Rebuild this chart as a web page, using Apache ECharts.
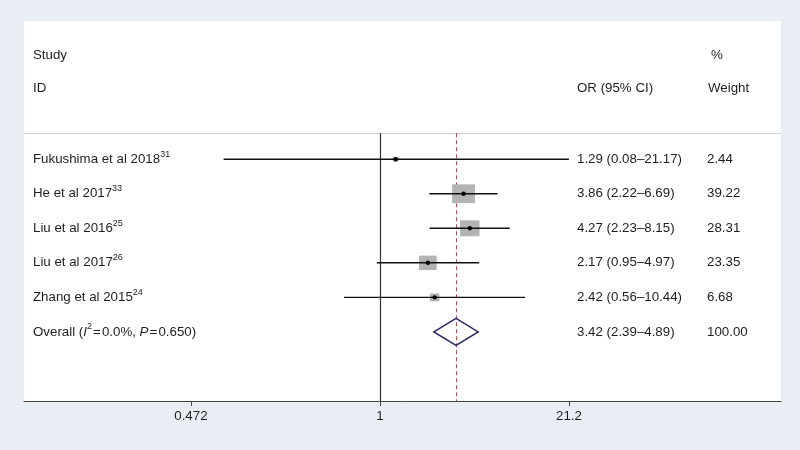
<!DOCTYPE html>
<html>
<head>
<meta charset="utf-8">
<script src="https://cdn.jsdelivr.net/npm/echarts@6/dist/echarts.min.js"></script>
<style>
  html, body { margin: 0; padding: 0; background: #e8eef3; }
  #chart { width: 800px; height: 450px; }
</style>
</head>
<body>
<div id="chart"></div>
<script>
const studies = ["Fukushima et al 2018", "He et al 2017", "Liu et al 2016", "Liu et al 2017", "Zhang et al 2015"]
const refs = ["31", "33", "25", "26", "24"]
const oddsRatio = [1.29, 3.86, 4.27, 2.17, 2.42]
const ciLower = [0.08, 2.22, 2.23, 0.95, 0.56]
const ciUpper = [21.17, 6.69, 8.15, 4.97, 10.44]
const weights = [2.44, 39.22, 28.31, 23.35, 6.68]
const overall = [3.42, 2.39, 4.89]
const tickValues = [1 / 21.2, 1, 21.2]
const tickLabels = ["0.472", "1", "21.2"]

const FONT = "'Liberation Sans', Arial, Helvetica, sans-serif"
const FS = 13.3
const textColor = "#1e1e1e"
// column offsets from the left of the panel
const colName = 9, colOR = 553, colWeight = 683

const fmt = (v) => v.toFixed(2)

const studyData = studies.map((s, i) => [i, oddsRatio[i], ciLower[i], ciUpper[i], weights[i]])

function renderStudy(params, api) {
  const i = api.value(0)
  const p = api.coord([api.value(1), i])
  const lo = api.coord([api.value(2), i])
  const hi = api.coord([api.value(3), i])
  const y = p[1]
  const w = Math.sqrt(api.value(4)) * 3.65
  const h = w * 0.82
  const cs = params.coordSys
  const idx = params.dataIndex
  return {
    type: "group",
    children: [
      { type: "rect", shape: { x: p[0] - w / 2, y: y - h / 2, width: w, height: h }, style: { fill: "#b3b3b3" } },
      { type: "line", shape: { x1: lo[0], y1: y, x2: hi[0], y2: y }, style: { stroke: "#111", lineWidth: 1.4 } },
      { type: "circle", shape: { cx: p[0], cy: y, r: 2.2 }, style: { fill: "#000" } },
      {
        type: "text",
        style: {
          x: cs.x + colName, y: y, verticalAlign: "middle",
          text: "{n|" + studies[idx] + "}{s|" + refs[idx] + "}",
          rich: {
            n: { fontSize: FS, fontFamily: FONT, fill: textColor, lineHeight: 19 },
            s: { fontSize: 9, fontFamily: FONT, fill: textColor, verticalAlign: "top", lineHeight: 19 }
          }
        }
      },
      {
        type: "text",
        style: {
          x: cs.x + colOR, y: y, verticalAlign: "middle", fill: textColor,
          font: FS + "px " + FONT,
          text: fmt(oddsRatio[idx]) + " (" + fmt(ciLower[idx]) + "\u2013" + fmt(ciUpper[idx]) + ")"
        }
      },
      {
        type: "text",
        style: {
          x: cs.x + colWeight, y: y, verticalAlign: "middle", fill: textColor,
          font: FS + "px " + FONT, text: fmt(weights[idx])
        }
      }
    ]
  }
}

function renderOverall(params, api) {
  const i = api.value(0)
  const p = api.coord([api.value(1), i])
  const lo = api.coord([api.value(2), i])
  const hi = api.coord([api.value(3), i])
  const y = p[1]
  const cs = params.coordSys
  const hh = 13.5
  return {
    type: "group",
    children: [
      {
        type: "polygon",
        shape: { points: [[lo[0], y], [p[0], y - hh], [hi[0], y], [p[0], y + hh]] },
        style: { fill: null, stroke: "#2b2966", lineWidth: 1.5 }
      },
      {
        type: "text",
        style: {
          x: cs.x + colName, y: y, verticalAlign: "middle",
          text: "{n|Overall (}{i|I}{s|2}{n|\u200a=\u200a0.0%, }{i|P}{n|\u200a=\u200a0.650)}",
          rich: {
            n: { fontSize: FS, fontFamily: FONT, fill: textColor, lineHeight: 19 },
            i: { fontSize: FS, fontFamily: FONT, fontStyle: "italic", fill: textColor, lineHeight: 19 },
            s: { fontSize: 9, fontFamily: FONT, fill: textColor, verticalAlign: "top", lineHeight: 19 }
          }
        }
      },
      {
        type: "text",
        style: {
          x: cs.x + colOR, y: y, verticalAlign: "middle", fill: textColor, font: FS + "px " + FONT,
          text: fmt(overall[0]) + " (" + fmt(overall[1]) + "\u2013" + fmt(overall[2]) + ")"
        }
      },
      {
        type: "text",
        style: { x: cs.x + colWeight, y: y, verticalAlign: "middle", fill: textColor, font: FS + "px " + FONT, text: "100.00" }
      }
    ]
  }
}

const chart = echarts.init(document.getElementById("chart"))
chart.setOption({
  backgroundColor: "#e8eef3",
  animation: false,
  textStyle: { fontFamily: FONT },
  grid: { left: 24, right: 19, top: 21, bottom: 49, show: true, backgroundColor: "#fff", borderWidth: 0 },
  xAxis: {
    type: "log",
    logBase: 10,
    min: 0.00318,
    max: 652,
    axisLine: { show: true, onZero: false, lineStyle: { color: "#444", width: 1 } },
    axisTick: { show: true, customValues: tickValues, length: 5, lineStyle: { color: "#444" } },
    axisLabel: {
      customValues: tickValues,
      color: textColor,
      fontSize: FS,
      margin: 9,
      formatter: (v) => {
        let best = 0
        tickValues.forEach((t, k) => {
          if (Math.abs(Math.log(t) - Math.log(v)) < Math.abs(Math.log(tickValues[best]) - Math.log(v))) best = k
        })
        return tickLabels[best]
      }
    },
    splitLine: { show: false },
    minorTick: { show: false }
  },
  yAxis: { type: "value", inverse: true, min: -4, max: 7, show: false },
  graphic: [
    { type: "text", left: 33, top: 49, style: { text: "Study", font: FS + "px " + FONT, fill: textColor } },
    { type: "text", left: 33, top: 82, style: { text: "ID", font: FS + "px " + FONT, fill: textColor } },
    { type: "text", left: 577, top: 82, style: { text: "OR (95% CI)", font: FS + "px " + FONT, fill: textColor } },
    { type: "text", left: 711, top: 49, style: { text: "%", font: FS + "px " + FONT, fill: textColor } },
    { type: "text", left: 708, top: 82, style: { text: "Weight", font: FS + "px " + FONT, fill: textColor } }
  ],
  series: [
    {
      type: "line",
      data: [],
      z: 1,
      markLine: {
        silent: true,
        symbol: "none",
        label: { show: false },
        data: [
          [{ coord: [0.00318, -0.75], lineStyle: { color: "#cfcfcf", width: 1, type: "solid" } }, { coord: [652, -0.75] }],
          [{ coord: [1, -0.75], lineStyle: { color: "#333", width: 1.2, type: "solid" } }, { coord: [1, 7] }],
          [{ coord: [overall[0], -0.75], lineStyle: { color: "#a0555a", width: 1.1, type: [4, 3] } }, { coord: [overall[0], 7] }]
        ]
      }
    },
    {
      type: "custom",
      zlevel: 1,
      renderItem: renderStudy,
      data: studyData
    },
    {
      type: "custom",
      zlevel: 1,
      renderItem: renderOverall,
      data: [[5, overall[0], overall[1], overall[2]]]
    }
  ]
})
</script>
</body>
</html>
